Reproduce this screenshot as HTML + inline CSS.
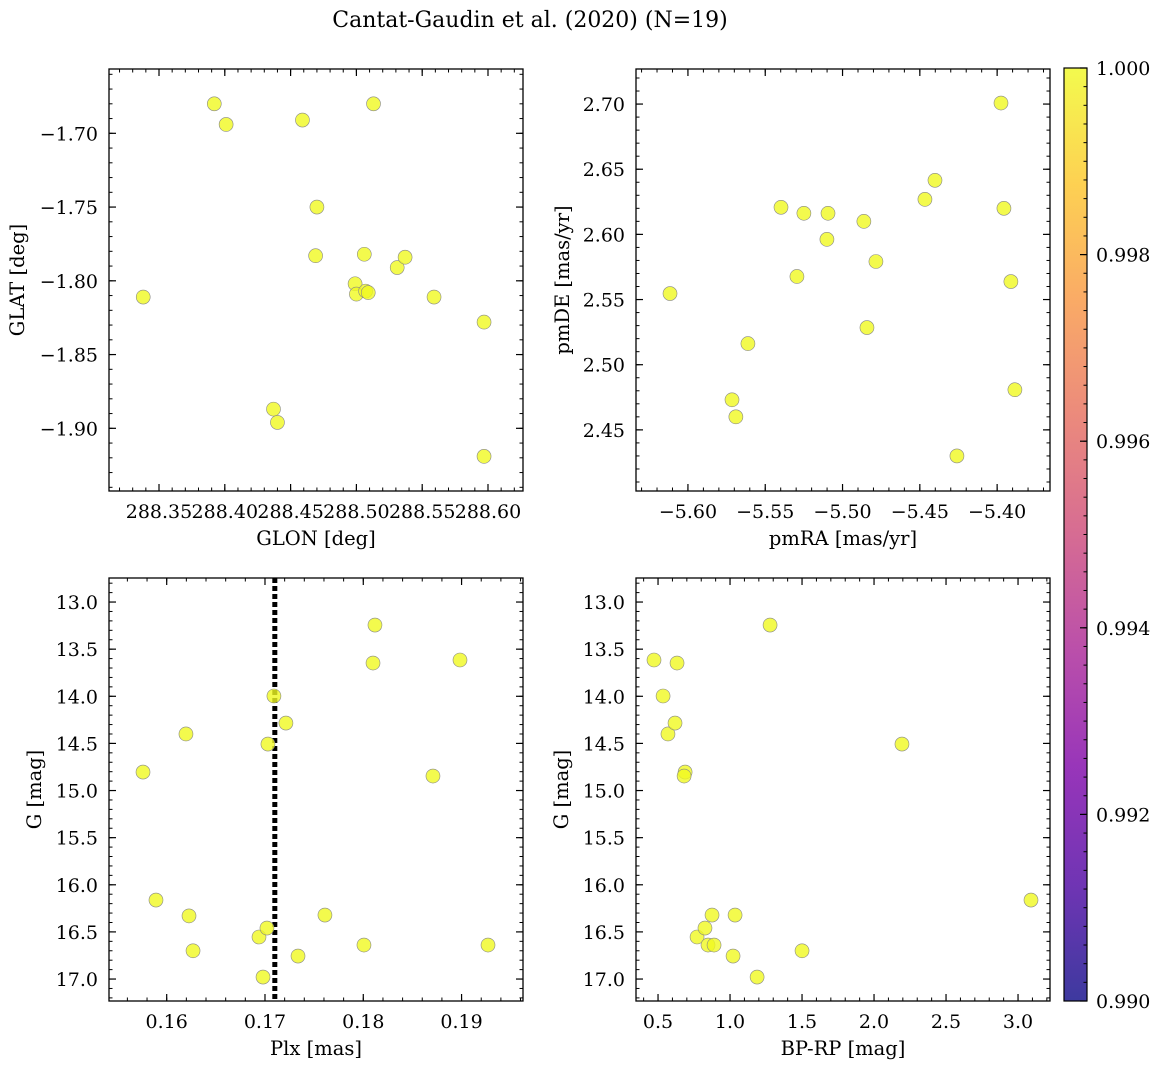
<!DOCTYPE html>
<html><head><meta charset="utf-8">
<style>
html,body{margin:0;padding:0;background:#fff;}
svg{display:block;font-family:"DejaVu Serif","Liberation Serif",serif;}
</style></head>
<body>
<svg id="fig" width="1161" height="1068" viewBox="0 0 1161 1068" xmlns="http://www.w3.org/2000/svg">
<defs>
<linearGradient id="plasma" x1="0" y1="1" x2="0" y2="0">
<stop offset="0" stop-color="#0d0887"/><stop offset="0.125" stop-color="#4c02a1"/>
<stop offset="0.25" stop-color="#7e03a8"/><stop offset="0.375" stop-color="#a92395"/>
<stop offset="0.5" stop-color="#cc4778"/><stop offset="0.625" stop-color="#e66c5c"/>
<stop offset="0.75" stop-color="#f89540"/><stop offset="0.875" stop-color="#fdc527"/>
<stop offset="1" stop-color="#f0f921"/>
</linearGradient>
</defs>
<text x="530" y="27" text-anchor="middle" font-size="22">Cantat-Gaudin et al. (2020) (N=19)</text>
<g id="plots"></g>
<g>
<rect x="1064" y="68" width="23" height="933" fill="url(#plasma)" opacity="0.8"/>
<rect x="1064" y="68" width="23" height="933" fill="none" stroke="#000" stroke-width="1.2"/>
<g id="cbticks"></g>
</g>
</svg>
<script>
// Panel 1 data
const glon = [288.338,288.392,288.401,288.459,288.513,288.470,288.469,288.437,288.440,288.506,288.499,288.500,288.507,288.509,288.531,288.537,288.559,288.597,288.597];
const glat = [-1.811,-1.680,-1.694,-1.691,-1.680,-1.750,-1.783,-1.887,-1.896,-1.782,-1.802,-1.809,-1.807,-1.808,-1.791,-1.784,-1.811,-1.828,-1.919];
// Panel 2 data
const pmra = [-5.6116,-5.5398,-5.525,-5.5094,-5.5295,-5.5101,-5.4862,-5.4784,-5.4842,-5.5612,-5.5715,-5.5690,-5.4467,-5.4402,-5.3975,-5.3956,-5.3911,-5.3885,-5.426];
const pmde = [2.5546,2.6208,2.6162,2.6162,2.5677,2.5962,2.610,2.5792,2.5285,2.5162,2.4731,2.460,2.6269,2.6415,2.7008,2.620,2.5638,2.4808,2.430];
// Panel 3 data
const plx = [0.15759,0.15891,0.16196,0.16227,0.16268,0.16939,0.1698,0.1702,0.1703,0.17091,0.17213,0.17336,0.1761,0.18007,0.18119,0.18099,0.18709,0.18984,0.19269];
const gmag3 = [14.804,16.162,14.40,16.33,16.70,16.554,16.979,16.459,14.507,13.997,14.284,16.756,16.321,16.639,13.244,13.647,14.846,13.615,16.639];
const plxLine = 0.1710;
// Panel 4 data
const bprp = [0.472,0.535,0.569,0.618,0.632,0.688,0.681,0.771,0.826,0.847,0.875,0.889,1.021,1.035,1.188,1.278,1.50,2.194,3.09];
const gmag4 = [13.615,13.997,14.40,14.284,13.647,14.804,14.846,16.554,16.459,16.639,16.321,16.639,16.756,16.321,16.979,13.244,16.70,14.507,16.162];
// ticks
const ticks1x = [288.35,288.40,288.45,288.50,288.55,288.60];
const ticks1y = [-1.70,-1.75,-1.80,-1.85,-1.90];
const ticks2x = [-5.60,-5.55,-5.50,-5.45,-5.40];
const ticks2y = [2.45,2.50,2.55,2.60,2.65,2.70];
const ticks3x = [0.16,0.17,0.18,0.19];
const ticksG = [13.0,13.5,14.0,14.5,15.0,15.5,16.0,16.5,17.0];
const ticks4x = [0.5,1.0,1.5,2.0,2.5,3.0];
const cbTicks = [0.990,0.992,0.994,0.996,0.998,1.000];

const NS="http://www.w3.org/2000/svg";
const root=document.getElementById('plots');
function mk(tag,attrs,parent){const e=document.createElementNS(NS,tag);for(const k in attrs)e.setAttribute(k,attrs[k]);(parent||root).appendChild(e);return e;}

function panel(o){
  const g=mk('g',{});
  
  
  const {x0,x1,y0,y1}=o.box;
  const sx=v=>x0+(v-o.xr[0])/(o.xr[1]-o.xr[0])*(x1-x0);
  const sy=v=>o.yinv? y0+(v-o.yr[0])/(o.yr[1]-o.yr[0])*(y1-y0) : y1-(v-o.yr[0])/(o.yr[1]-o.yr[0])*(y1-y0);
  const minor=(r,step)=>{const a=[];const s=Math.ceil(r[0]/step-1e-9);for(let i=s;i*step<=r[1]+1e-9;i++)a.push(i*step);return a;};
  minor(o.xr,o.xminor).forEach(v=>{const X=sx(v);mk('line',{x1:X,x2:X,y1:y1,y2:y1-3.5,stroke:'#000','stroke-width':1},g);mk('line',{x1:X,x2:X,y1:y0,y2:y0+3.5,stroke:'#000','stroke-width':1},g);});
  minor(o.yr,o.yminor).forEach(v=>{const Y=sy(v);mk('line',{x1:x0,x2:x0+3.5,y1:Y,y2:Y,stroke:'#000','stroke-width':1},g);mk('line',{x1:x1,x2:x1-3.5,y1:Y,y2:Y,stroke:'#000','stroke-width':1},g);});
  o.xt.forEach(v=>{const X=sx(v);mk('line',{x1:X,x2:X,y1:y1,y2:y1-7,stroke:'#000','stroke-width':1.2},g);mk('line',{x1:X,x2:X,y1:y0,y2:y0+7,stroke:'#000','stroke-width':1.2},g);
    const t=mk('text',{x:X,y:y1+27,'text-anchor':'middle','font-size':19},g);t.textContent=o.xf(v);});
  o.yt.forEach(v=>{const Y=sy(v);mk('line',{x1:x0,x2:x0+7,y1:Y,y2:Y,stroke:'#000','stroke-width':1.2},g);mk('line',{x1:x1,x2:x1-7,y1:Y,y2:Y,stroke:'#000','stroke-width':1.2},g);
    const t=mk('text',{x:x0-11,y:Y+7,'text-anchor':'end','font-size':19},g);t.textContent=o.yf(v);});
  if(o.vline!==undefined){const X=sx(o.vline);const l=mk('line',{x1:X,x2:X,y1:y0,y2:y1,stroke:'#000','stroke-width':5,'stroke-dasharray':'5,3'},g);}
  o.xs.forEach((v,i)=>{const c=mk('circle',{cx:sx(v),cy:sy(o.ys[i]),r:7,fill:'#f0f921','fill-opacity':0.8,stroke:'#888','stroke-width':0.6},g);
    
    });
  mk('rect',{x:x0,y:y0,width:x1-x0,height:y1-y0,fill:'none',stroke:'#000','stroke-width':1.3},g);
  const xl=mk('text',{x:(x0+x1)/2,y:y1+54,'text-anchor':'middle','font-size':19.5},g);xl.textContent=o.xlabel;
  
  const yl=mk('text',{x:o.ylx,y:(y0+y1)/2,'text-anchor':'middle','font-size':19.5,transform:`rotate(-90 ${o.ylx} ${(y0+y1)/2})`},g);yl.textContent=o.ylabel;
  
}
const fm=n=>v=>(v<0?'\u2212':'')+Math.abs(v).toFixed(n);
panel({name:'glon-glat-panel',box:{x0:109,x1:523,y0:69,y1:491},xr:[288.312,288.6266],yr:[-1.9425,-1.6564],xt:ticks1x,yt:ticks1y,xminor:0.01,yminor:0.01,xf:fm(2),yf:fm(2),xs:glon,ys:glat,xlabel:'GLON [deg]',ylabel:'GLAT [deg]',ylx:24});
panel({name:'pmra-pmde-panel',box:{x0:636,x1:1050,y0:69,y1:491},xr:[-5.6336,-5.3658],yr:[2.4031,2.7269],xt:ticks2x,yt:ticks2y,xminor:0.01,yminor:0.01,xf:fm(2),yf:fm(2),xs:pmra,ys:pmde,xlabel:'pmRA [mas/yr]',ylabel:'pmDE [mas/yr]',ylx:569});
panel({name:'plx-g-panel',box:{x0:109,x1:523,y0:578,y1:1001},xr:[0.15413,0.19625],yr:[12.745,17.233],yinv:true,xt:ticks3x,yt:ticksG,xminor:0.002,yminor:0.1,xf:fm(2),yf:fm(1),xs:plx,ys:gmag3,vline:plxLine,xlabel:'Plx [mas]',ylabel:'G [mag]',ylx:41});
panel({name:'bprp-g-panel',box:{x0:636,x1:1050,y0:578,y1:1001},xr:[0.347,3.222],yr:[12.745,17.233],yinv:true,xt:ticks4x,yt:ticksG,xminor:0.1,yminor:0.1,xf:fm(1),yf:fm(1),xs:bprp,ys:gmag4,xlabel:'BP-RP [mag]',ylabel:'G [mag]',ylx:568});
const cb=document.getElementById('cbticks');
const cy=v=>1001-(v-0.990)/0.010*933;
for(let i=0;i<=50;i++){const v=0.990+i*0.0002;const Y=cy(v);mk('line',{x1:1087,x2:1083.5,y1:Y,y2:Y,stroke:'#000','stroke-width':1},cb);}
cbTicks.forEach(v=>{const Y=cy(v);mk('line',{x1:1087,x2:1080,y1:Y,y2:Y,stroke:'#000','stroke-width':1.2},cb);
  const t=mk('text',{x:1096,y:Y+7,'font-size':19},cb);t.textContent=v.toFixed(3);
  
  });
</script>
</body></html>
